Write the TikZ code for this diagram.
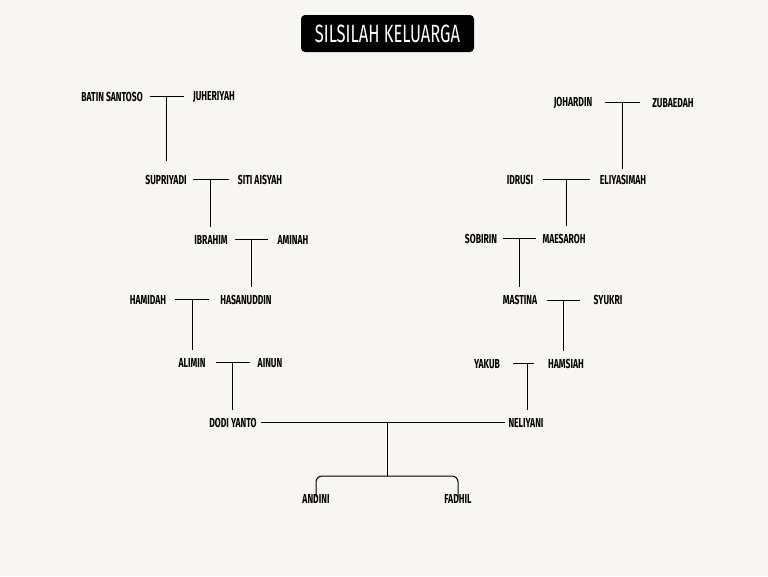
\documentclass[tikz,border=0pt]{standalone}
\usepackage{fontspec}
\usetikzlibrary{calc}
\newfontfamily\labfont[FakeStretch=0.66]{Fira Sans}
\newfontfamily\titfont[FakeStretch=0.66]{Fira Sans}
\definecolor{bgcol}{HTML}{F7F6F2}
\begin{document}
\begin{tikzpicture}[x=1pt,y=-1pt,
  person/.style={font=\labfont\bfseries\fontsize{13}{14}\selectfont, inner sep=0pt, text=black},
  link/.style={line width=1pt, draw=black},
  desc/.style={line width=1pt, draw=black, shorten >=8pt},
  titlebox/.style={fill=black, rounded corners=4pt, text=white, minimum width=173pt, minimum height=37pt, font=\titfont\fontsize{25}{28}\selectfont}
]
\fill[bgcol] (0,0) rectangle (768,576);
\useasboundingbox (0,0) rectangle (768,576);

\node[titlebox] (title) at (387.5,33.5) {SILSILAH KELUARGA};

% left side
\node[person] (batin) at (112,97) {BATIN SANTOSO};
\node[person] (juh) at (214,97) {JUHERIYAH};
\node[person] (sup) at (166,180) {SUPRIYADI};
\node[person] (siti) at (260,180) {SITI AISYAH};
\node[person] (ibr) at (211,240) {IBRAHIM};
\node[person] (ami) at (293,240) {AMINAH};
\node[person] (ham) at (148,300) {HAMIDAH};
\node[person] (has) at (246,300) {HASANUDDIN};
\node[person] (ali) at (192,363) {ALIMIN};
\node[person] (ain) at (270,363) {AINUN};
\node[person] (dodi) at (233,423) {DODI YANTO};

% right side
\node[person] (joh) at (573,103) {JOHARDIN};
\node[person] (zub) at (673,103) {ZUBAEDAH};
\node[person] (idr) at (520,180) {IDRUSI};
\node[person] (eli) at (623,180) {ELIYASIMAH};
\node[person] (sob) at (481,239) {SOBIRIN};
\node[person] (mae) at (564,239) {MAESAROH};
\node[person] (mas) at (520,300) {MASTINA};
\node[person] (syu) at (608,300) {SYUKRI};
\node[person] (yak) at (487,364) {YAKUB};
\node[person] (hms) at (566,364) {HAMSIAH};
\node[person] (nel) at (526,423) {NELIYANI};

% children
\node[person] (and) at (316,499) {ANDINI};
\node[person] (fad) at (458,499) {FADHIL};

% couple lines
\draw[link] ([xshift=7pt,yshift=1pt]batin.east) -- ([xshift=-9pt,yshift=1pt]juh.west) coordinate[pos=0.48] (m1);
\draw[link] ([xshift=6pt,yshift=1pt]sup.east) -- ([xshift=-9pt,yshift=1pt]siti.west) coordinate[pos=0.5] (m2);
\draw[link] ([xshift=7pt,yshift=1pt]ibr.east) -- ([xshift=-9pt,yshift=1pt]ami.west) coordinate[pos=0.5] (m3);
\draw[link] ([xshift=9pt,yshift=1pt]ham.east) -- ([xshift=-11pt,yshift=1pt]has.west) coordinate[pos=0.5] (m4);
\draw[link] ([xshift=10pt,yshift=1pt]ali.east) -- ([xshift=-8pt,yshift=1pt]ain.west) coordinate[pos=0.5] (m5);

\draw[link] ([xshift=13pt,yshift=1pt]joh.east) -- ([xshift=-12pt,yshift=1pt]zub.west) coordinate[pos=0.5] (n1);
\draw[link] ([xshift=10pt,yshift=1pt]idr.east) -- ([xshift=-10pt,yshift=1pt]eli.west) coordinate[pos=0.5] (n2);
\draw[link] ([xshift=6pt,yshift=1pt]sob.east) -- ([xshift=-6pt,yshift=1pt]mae.west) coordinate[pos=0.5] (n3);
\draw[link] ([xshift=10pt]mas.east) -- ([xshift=-13pt]syu.west) coordinate[pos=0.5] (n4);
\draw[link] ([xshift=13pt,yshift=1pt]yak.east) -- ([xshift=-14pt,yshift=1pt]hms.west) coordinate[pos=0.68] (n5);

\draw[link] ([xshift=4pt,yshift=1pt]dodi.east) -- ([xshift=-3pt,yshift=1pt]nel.west) coordinate[pos=0.52] (c0);

% descent lines
\draw[desc, shorten >=14pt] (m1) -- (m1 |- sup.north);
\draw[desc] (m2) -- (m2 |- ibr.north);
\draw[desc] (m3) -- (m3 |- has.north);
\draw[desc] (m4) -- (m4 |- ali.north);
\draw[desc] (m5) -- (m5 |- dodi.north);

\draw[desc, shorten >=6pt] (n1) -- (n1 |- eli.north);
\draw[desc] (n2) -- (n2 |- mae.north);
\draw[desc] (n3) -- (n3 |- mas.north);
\draw[desc] (n4) -- (n4 |- hms.north);
\draw[desc] (n5) -- (n5 |- nel.north);

% children bracket
\coordinate (cb) at ($(c0)+(0,54)$);
\draw[link] (c0) -- (cb);
\draw[link, rounded corners=6pt] ([yshift=-3pt]and.north) -- (and.north |- cb) -- (fad.north |- cb) -- ([yshift=-3pt]fad.north);
\end{tikzpicture}
\end{document}
